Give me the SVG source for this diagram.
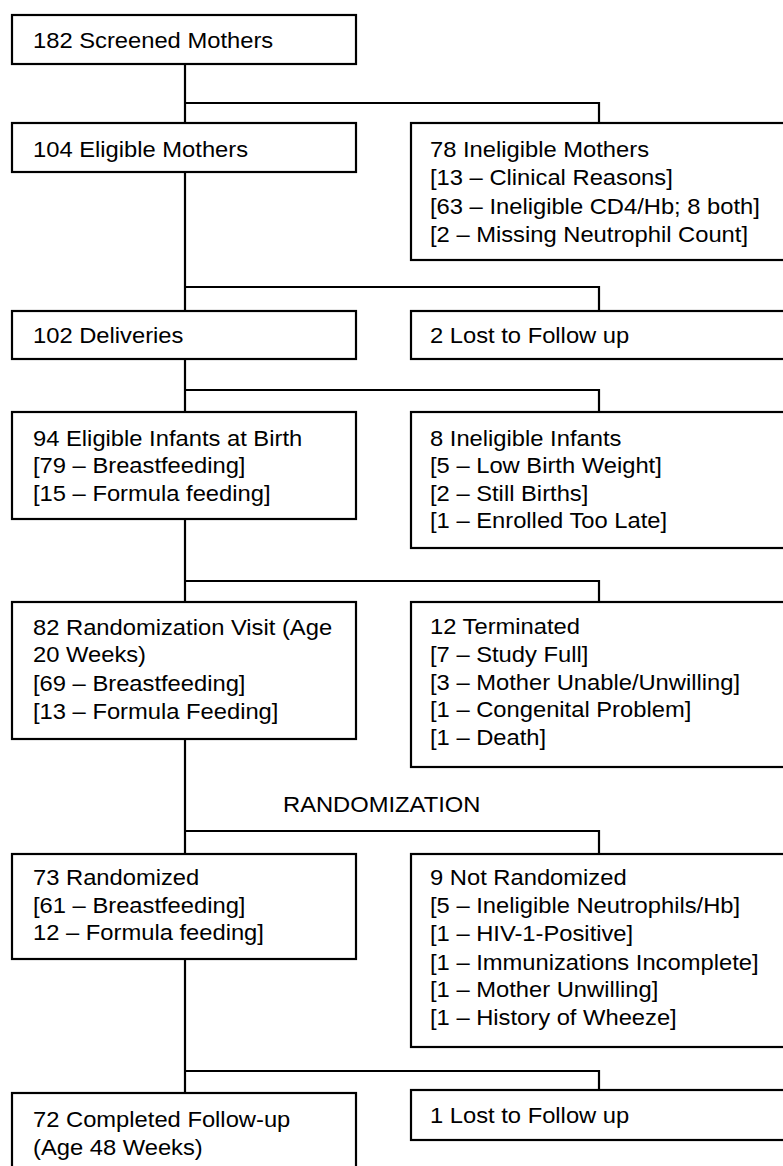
<svg xmlns="http://www.w3.org/2000/svg" width="783" height="1166" viewBox="0 0 783 1166">
<style>
.box{fill:#fff;stroke:#000;stroke-width:2.2}
.ln{fill:none;stroke:#000;stroke-width:2.2}
text{font-family:"Liberation Sans",Arial,sans-serif;font-size:22px;fill:#000}
</style>
<rect width="783" height="1166" fill="#fff"/>
<g id="connectors">
<path class="ln" d="M185 64V123M185 172V311M185 359V412M185 519V602M185 739V854M185 959V1093"/>
<path class="ln" d="M185 103H599V123"/>
<path class="ln" d="M185 287H599V311"/>
<path class="ln" d="M185 390H599V412"/>
<path class="ln" d="M185 581H599V602"/>
<path class="ln" d="M185 831H599V854"/>
<path class="ln" d="M185 1071H599V1090"/>
</g>
<g id="n1"><rect class="box" x="12" y="15" width="344" height="49"/>
<text transform="translate(33,48) scale(1.08,1)">182 Screened Mothers</text></g>
<g id="n2"><rect class="box" x="12" y="123" width="344" height="49"/>
<text transform="translate(33,157) scale(1.08,1)">104 Eligible Mothers</text></g>
<g id="n3"><rect class="box" x="411" y="123" width="390" height="137"/>
<text transform="translate(430,157) scale(1.08,1)"><tspan x="0" y="0">78 Ineligible Mothers</tspan><tspan x="0" y="28.5">[13 – Clinical Reasons]</tspan><tspan x="0" y="57">[63 – Ineligible CD4/Hb; 8 both]</tspan><tspan x="0" y="85.5">[2 – Missing Neutrophil Count]</tspan></text></g>
<g id="n4"><rect class="box" x="12" y="311" width="344" height="48"/>
<text transform="translate(33,343) scale(1.08,1)">102 Deliveries</text></g>
<g id="n5"><rect class="box" x="411" y="311" width="390" height="48"/>
<text transform="translate(430,343) scale(1.08,1)">2 Lost to Follow up</text></g>
<g id="n6"><rect class="box" x="12" y="412" width="344" height="107"/>
<text transform="translate(33,446) scale(1.08,1)"><tspan x="0" y="0">94 Eligible Infants at Birth</tspan><tspan x="0" y="27.5">[79 – Breastfeeding]</tspan><tspan x="0" y="55">[15 – Formula feeding]</tspan></text></g>
<g id="n7"><rect class="box" x="411" y="412" width="390" height="136"/>
<text transform="translate(430,446) scale(1.08,1)"><tspan x="0" y="0">8 Ineligible Infants</tspan><tspan x="0" y="27.5">[5 – Low Birth Weight]</tspan><tspan x="0" y="55">[2 – Still Births]</tspan><tspan x="0" y="82.5">[1 – Enrolled Too Late]</tspan></text></g>
<g id="n8"><rect class="box" x="12" y="602" width="344" height="137"/>
<text transform="translate(33,635) scale(1.08,1)"><tspan x="0" y="0">82 Randomization Visit (Age</tspan><tspan x="0" y="27.5">20 Weeks)</tspan><tspan x="0" y="56">[69 – Breastfeeding]</tspan><tspan x="0" y="84">[13 – Formula Feeding]</tspan></text></g>
<g id="n9"><rect class="box" x="411" y="602" width="390" height="165"/>
<text transform="translate(430,634) scale(1.08,1)"><tspan x="0" y="0">12 Terminated</tspan><tspan x="0" y="28">[7 – Study Full]</tspan><tspan x="0" y="56">[3 – Mother Unable/Unwilling]</tspan><tspan x="0" y="83">[1 – Congenital Problem]</tspan><tspan x="0" y="111">[1 – Death]</tspan></text></g>
<g id="randomization-label"><text transform="translate(283,812) scale(1.08,1)">RANDOMIZATION</text></g>
<g id="n10"><rect class="box" x="12" y="854" width="344" height="105"/>
<text transform="translate(33,885) scale(1.08,1)"><tspan x="0" y="0">73 Randomized</tspan><tspan x="0" y="28">[61 – Breastfeeding]</tspan><tspan x="0" y="55.5">12 – Formula feeding]</tspan></text></g>
<g id="n11"><rect class="box" x="411" y="854" width="390" height="193"/>
<text transform="translate(430,885) scale(1.08,1)"><tspan x="0" y="0">9 Not Randomized</tspan><tspan x="0" y="28">[5 – Ineligible Neutrophils/Hb]</tspan><tspan x="0" y="56.5">[1 – HIV-1-Positive]</tspan><tspan x="0" y="85">[1 – Immunizations Incomplete]</tspan><tspan x="0" y="112.5">[1 – Mother Unwilling]</tspan><tspan x="0" y="140">[1 – History of Wheeze]</tspan></text></g>
<g id="n12"><rect class="box" x="12" y="1093" width="344" height="90"/>
<text transform="translate(33,1127) scale(1.08,1)"><tspan x="0" y="0">72 Completed Follow-up</tspan><tspan x="0" y="28">(Age 48 Weeks)</tspan></text></g>
<g id="n13"><rect class="box" x="411" y="1090" width="390" height="50"/>
<text transform="translate(430,1123) scale(1.08,1)">1 Lost to Follow up</text></g>
</svg>
